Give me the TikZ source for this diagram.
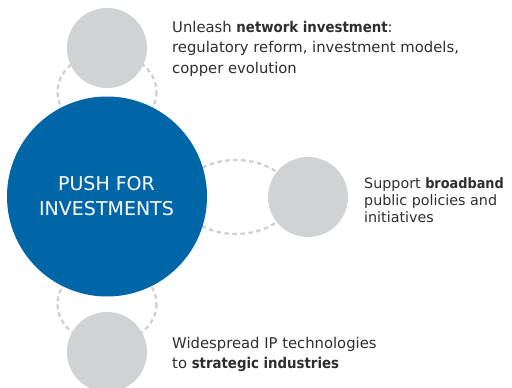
\documentclass[tikz,border=0pt]{standalone}
\usepackage{fontspec}
\setmainfont{DejaVu Sans}[BoldFont={DejaVu Sans Condensed Bold}]
\definecolor{pushblue}{HTML}{0066A8}
\definecolor{bubblegray}{HTML}{D1D2D4}
\definecolor{dashgray}{HTML}{CFCFCF}
\definecolor{txtgray}{HTML}{2E2E2E}
\begin{document}
\begin{tikzpicture}[x=1pt,y=-1pt,
  link/.style={draw=dashgray,line width=2.3pt,dash pattern=on 4.5pt off 3.5pt},
  bubble/.style={circle,fill=bubblegray,minimum size=80pt,inner sep=0pt},
  main/.style={circle,fill=pushblue,minimum size=200pt,inner sep=0pt},
  lbl/.style={anchor=base west,inner sep=0pt,text=txtgray,font=\fontsize{14.8}{17}\selectfont},
  lbls/.style={anchor=base west,inner sep=0pt,text=txtgray,font=\fontsize{14.3}{17}\selectfont},
  core/.style={anchor=base,inner sep=0pt,text=white,font=\fontsize{19}{22}\selectfont}]
\useasboundingbox (0,0) rectangle (512,388);
\clip (0,0) rectangle (512,388);
% dashed links
\coordinate (ltop) at (107,92);
\coordinate (lright) at (236,197);
\coordinate (lbot) at (107,304);
\draw[link] (ltop) ellipse [x radius=49.5, y radius=40];
\draw[link] (lright) ellipse [x radius=55, y radius=37];
\draw[link] (lbot) ellipse [x radius=49.5, y radius=40];
% circles
\node[main] (push) at (107,196.5) {};
\node[bubble] (top) at (107,48) {};
\node[bubble] (right) at (308,197) {};
\node[bubble] (bot) at (107,352) {};
% centre text
\node[core] (c1) at (106.5,190) {PUSH FOR};
\node[core] (c2) at (106.5,215) {INVESTMENTS};
% top text
\node[lbl] (t1) at (172,32) {Unleash \textbf{network investment}:};
\node[lbl] (t2) at (172,52.5) {regulatory reform, investment models,};
\node[lbl] (t3) at (172,73) {copper evolution};
% right text
\node[lbls] (r1) at (364,188) {Support \textbf{broadband}};
\node[lbls] (r2) at (364,205) {public policies and};
\node[lbls] (r3) at (364,222) {initiatives};
% bottom text
\node[lbl] (b1) at (172,348.5) {Widespread IP technologies};
\node[lbl] (b2) at (172,368.5) {to \textbf{strategic industries}};
\end{tikzpicture}
\end{document}
